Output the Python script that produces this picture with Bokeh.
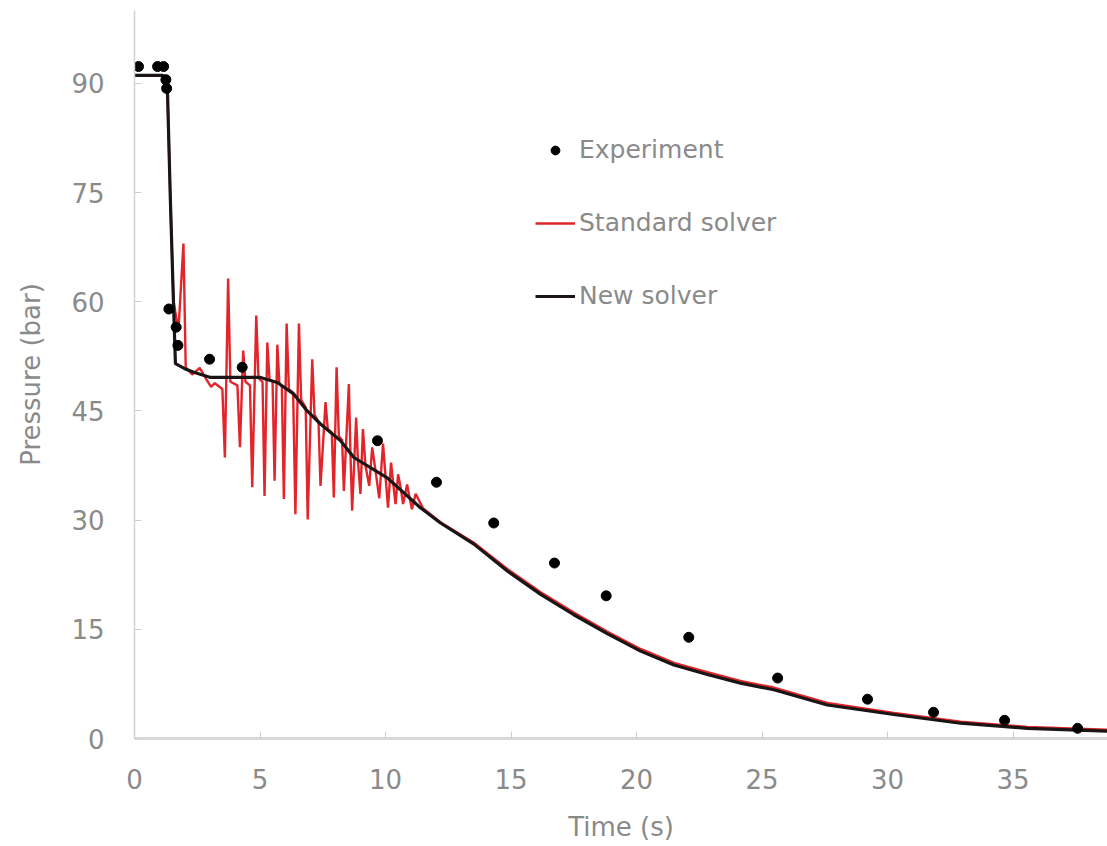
from bokeh.plotting import figure
from bokeh.models import Range1d, FixedTicker, Legend, LegendItem
from bokeh.embed import file_html
from bokeh.resources import INLINE

# ---------------- data ----------------
x_ticks = [0, 5, 10, 15, 20, 25, 30, 35]
y_ticks = [0, 15, 30, 45, 60, 75, 90]

exp_time = [0.16, 0.92, 1.16, 1.25, 1.28, 1.37, 1.66, 1.73, 2.99, 4.29,
            9.68, 12.03, 14.31, 16.73, 18.79, 22.08, 25.62, 29.2, 31.83, 34.66, 37.57]
exp_pressure = [92.3, 92.3, 92.3, 90.5, 89.3, 59.0, 56.5, 54.0, 52.1, 51.0,
                40.9, 35.2, 29.6, 24.1, 19.6, 13.9, 8.3, 5.4, 3.6, 2.5, 1.4]

new_time = [0, 1.12, 1.24, 1.31, 1.43, 1.55, 1.63, 2.0, 2.36, 3.03, 5.02, 5.69, 6.35,
            6.88, 7.41, 8.21, 8.74, 10.07, 11.39, 12.19, 13.52, 14.85, 16.18,
            17.5, 18.83, 20.16, 21.49, 22.82, 24.14, 25.47, 27.6, 30.25, 32.91,
            35.57, 38.76]
new_pressure = [91.1, 91.1, 90.5, 89.4, 73.9, 60.2, 51.5, 50.8, 50.3, 49.6, 49.6, 48.9, 47.3,
                45.0, 43.2, 40.9, 38.6, 35.8, 31.7, 29.6, 26.7, 23.0, 19.8,
                17.0, 14.4, 12.0, 10.1, 8.8, 7.6, 6.7, 4.6, 3.3, 2.1,
                1.4, 1.0]

std_time = [0, 1.12, 1.24, 1.31, 1.43, 1.55, 1.75, 1.95, 2.04, 2.3, 2.6, 2.85,
            3.05, 3.2, 3.5, 3.6, 3.73, 3.82, 4.1, 4.2, 4.33, 4.42, 4.6, 4.69,
            4.85, 4.94, 5.1, 5.18, 5.29, 5.38, 5.5, 5.58, 5.69, 5.77, 5.87, 5.95,
            6.06, 6.15, 6.32, 6.41, 6.55, 6.64, 6.82, 6.90, 7.08, 7.17, 7.33, 7.41,
            7.61, 7.7, 7.86, 7.94, 8.05, 8.14, 8.27, 8.34, 8.54, 8.6, 8.67, 8.83,
            8.9, 9.0, 9.1, 9.2, 9.35, 9.47, 9.6, 9.75, 9.9, 10.0, 10.1, 10.22,
            10.3, 10.4, 10.5, 10.6, 10.7, 10.86, 10.95, 11.05, 11.2, 11.5,
            12.19, 13.52, 14.85, 16.18, 17.5, 18.83, 20.16, 21.49, 22.82, 24.14,
            25.47, 27.6, 30.25, 32.91, 35.57, 38.76]
std_pressure = [91.1, 91.1, 90.5, 89.4, 73.9, 60.2, 56.0, 68.0, 51.0, 50.0, 50.9, 49.4,
                48.3, 48.8, 48.0, 38.6, 63.2, 49.0, 48.5, 40.0, 53.3, 49.0, 48.5, 34.5,
                58.1, 49.5, 49.0, 33.3, 54.4, 49.3, 49.0, 35.4, 54.1, 48.8, 48.3, 32.9,
                57.0, 48.0, 47.5, 30.8, 57.0, 46.5, 45.5, 30.1, 52.1, 44.5, 43.5, 34.7,
                46.2, 42.5, 42.0, 33.1, 51.0, 41.5, 41.0, 34.0, 48.7, 39.5, 31.3, 44.1,
                38.2, 33.6, 42.5, 37.5, 34.7, 40.0, 36.8, 33.0, 40.5, 36.0, 31.7, 37.9,
                35.2, 32.2, 36.3, 34.5, 32.2, 34.9, 33.2, 31.5, 33.6, 31.6,
                29.7, 26.9, 23.3, 20.1, 17.3, 14.7, 12.3, 10.4, 9.1, 7.9,
                7.0, 4.9, 3.5, 2.3, 1.6, 1.2]

# ---------------- figure ----------------
FONT = "DejaVu Sans"
TXT = "#8a8a8a"

p = figure(width=1107, height=846, output_backend="svg", toolbar_location=None,
           x_range=Range1d(0, 38.76), y_range=Range1d(0, 100),
           min_border_left=134, min_border_right=0, min_border_top=10,
           min_border_bottom=108)
p.outline_line_color = None
p.grid.visible = False
p.background_fill_color = "white"

std_r = p.line(std_time, std_pressure, line_color="#e1252b", line_width=2.4)
new_r = p.line(new_time, new_pressure, line_color="#1b1515", line_width=3.2)
exp_r = p.scatter(exp_time, exp_pressure, size=10, fill_color="black", line_color="black")

for ax in (p.xaxis[0], p.yaxis[0]):
    ax.minor_tick_line_color = None
    ax.major_tick_out = 0
    ax.major_tick_in = 7
    ax.major_tick_line_color = "#cfcfcf"
    ax.major_tick_line_width = 1
    ax.major_label_text_font = FONT
    ax.major_label_text_font_size = "26px"
    ax.major_label_text_color = TXT
    ax.axis_label_text_font = FONT
    ax.axis_label_text_font_size = "26px"
    ax.axis_label_text_font_style = "normal"
    ax.axis_label_text_color = TXT

p.xaxis.ticker = FixedTicker(ticks=x_ticks)
p.yaxis.ticker = FixedTicker(ticks=y_ticks)
p.xaxis.axis_line_color = "#d9d9d9"
p.xaxis.axis_line_width = 3
p.yaxis.axis_line_color = "#d2d2d2"
p.yaxis.axis_line_width = 1.5
p.xaxis.major_label_standoff = 30
p.yaxis.major_label_standoff = 30
p.xaxis.axis_label = "Time (s)"
p.yaxis.axis_label = "Pressure (bar)"
p.xaxis.axis_label_standoff = 20
p.yaxis.axis_label_standoff = 22

legend = Legend(items=[LegendItem(label="Experiment", renderers=[exp_r]),
                       LegendItem(label="Standard solver", renderers=[std_r]),
                       LegendItem(label="New solver", renderers=[new_r])],
                location=(401, 428), padding=0, margin=0, spacing=44,
                glyph_width=40, glyph_height=22, label_height=22, label_standoff=4,
                label_text_font=FONT, label_text_font_size="25px",
                label_text_color=TXT, border_line_color=None,
                background_fill_alpha=0)
p.add_layout(legend)

open("out.html", "w").write(file_html(p, INLINE))
